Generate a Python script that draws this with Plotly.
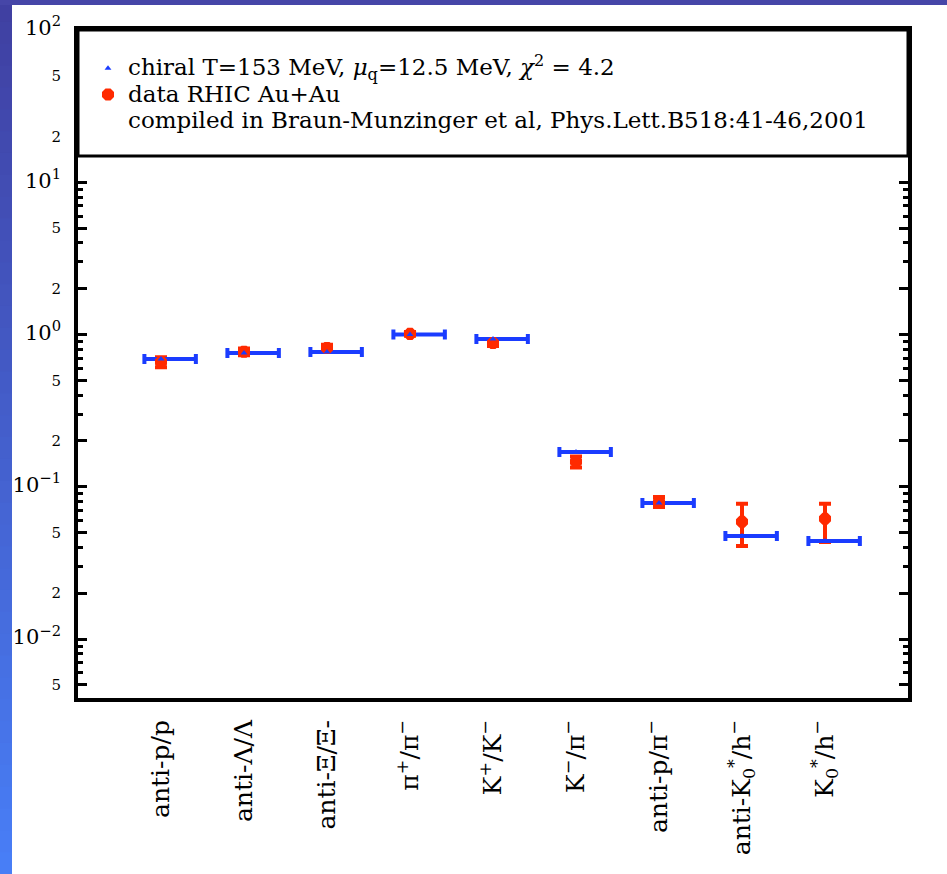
import plotly.graph_objects as go

# ---------------- data ----------------
categories = [
    "anti-p/p",
    "anti-Λ/Λ",
    "anti-Ξ/Ξ-",
    "π<sup>+</sup>/π<sup>−</sup>",
    "K<sup>+</sup>/K<sup>−</sup>",
    "K<sup>−</sup>/π<sup>−</sup>",
    "anti-p/π<sup>−</sup>",
    "anti-K<sub>0</sub><sup>*</sup>/h<sup>−</sup>",
    "K<sub>0</sub><sup>*</sup>/h<sup>−</sup>",
]
x_pos = [1, 2, 3, 4, 5, 6, 7, 8, 9]
model_ratio = [0.691, 0.757, 0.769, 1.0, 0.936, 0.169, 0.0783, 0.0476, 0.0441]
data_ratio = [0.66, 0.77, 0.817, 1.01, 0.88, 0.146, 0.0796, 0.0589, 0.0616]
data_err_plus = [0.05, 0.04, 0.04, 0.03, 0.04, 0.012, 0.006, 0.0184, 0.0157]
data_err_minus = [0.05, 0.04, 0.04, 0.03, 0.04, 0.012, 0.006, 0.018, 0.0182]

y_major_vals = [0.01, 0.1, 1, 10, 100]
y_major_text = ["10<sup>−2</sup>", "10<sup>−1</sup>", "10<sup>0</sup>", "10<sup>1</sup>", "10<sup>2</sup>"]
y_minor_label_vals = [0.005, 0.02, 0.05, 0.2, 0.5, 2, 5, 20, 50]
y_minor_label_text = ["5", "2", "5", "2", "5", "2", "5", "2", "5"]

legend_model = "chiral T=153 MeV, <i>μ</i><sub>q</sub>=12.5 MeV, <i>χ</i><sup>2</sup> = 4.2"
legend_data = "data RHIC Au+Au"
legend_note = "compiled in Braun-Munzinger et al, Phys.Lett.B518:41-46,2001"

# ---------------- styling constants ----------------
W, H = 947, 874
PL, PR, PT, PB = 78, 908, 30, 698   # plot area in pixels
BLUE = "#1a3cff"
RED = "#ff2a00"
FONT = "DejaVu Serif"
BAR_LEFT, BAR_RIGHT = 0.20, 0.42
LEG_TEXT_PX = 23


def px_x(p):
    return (p - PL) / (PR - PL)


def px_y(p):
    return (PB - p) / (PB - PT)


def big(t):
    return "<span style='font-size:%spx'>%s</span>" % (LEG_TEXT_PX, t)


fig = go.Figure()

# red error bars (underneath blue bars)
fig.add_trace(go.Scatter(
    x=x_pos, y=data_ratio, mode="markers",
    marker=dict(size=1, color="rgba(0,0,0,0)"),
    error_y=dict(type="data", array=data_err_plus, arrayminus=data_err_minus,
                 color=RED, thickness=4, width=6, symmetric=False),
    showlegend=False, hoverinfo="skip"))

# blue model bars
fig.add_trace(go.Scatter(
    x=x_pos, y=model_ratio, mode="markers",
    marker=dict(size=1, color="rgba(0,0,0,0)"),
    error_x=dict(type="constant", value=BAR_RIGHT, valueminus=BAR_LEFT, symmetric=False,
                 color=BLUE, thickness=4, width=5),
    showlegend=False, hoverinfo="skip"))

# red markers
fig.add_trace(go.Scatter(
    x=x_pos, y=data_ratio, mode="markers", name=big(legend_data),
    marker=dict(symbol="octagon", size=13, color=RED, line=dict(width=0)),
    legendrank=2))

# blue markers
fig.add_trace(go.Scatter(
    x=x_pos, y=model_ratio, mode="markers", name=big(legend_model),
    marker=dict(symbol="triangle-up", size=6, color=BLUE, line=dict(width=0)),
    legendrank=1))

# note line in legend
fig.add_trace(go.Scatter(
    x=[None], y=[None], mode="markers", name=big(legend_note),
    marker=dict(size=1, color="rgba(0,0,0,0)"), legendrank=3))

# ---------------- shapes: background frame, legend box ----------------
shapes = []
n = 40
top_c = (0x40, 0x40, 0xa2)
bot_c = (0x48, 0x7e, 0xf6)
for i in range(n):
    t = i / (n - 1)
    c = tuple(int(round(top_c[k] + (bot_c[k] - top_c[k]) * t)) for k in range(3))
    y0p = H * i / n
    y1p = H * (i + 1) / n + 1
    shapes.append(dict(type="rect", xref="paper", yref="paper", layer="below",
                       x0=px_x(0), x1=px_x(12), y0=px_y(y1p), y1=px_y(y0p),
                       fillcolor="rgb(%d,%d,%d)" % c, line=dict(width=0)))
shapes.append(dict(type="rect", xref="paper", yref="paper", layer="below",
                   x0=px_x(0), x1=px_x(W), y0=px_y(5), y1=px_y(0),
                   fillcolor="#4646a8", line=dict(width=0)))
shapes.append(dict(type="rect", xref="paper", yref="paper", layer="above",
                   x0=0, x1=1, y0=px_y(156), y1=1,
                   fillcolor="white", line=dict(color="black", width=3)))

fig.update_layout(
    width=W, height=H,
    margin=dict(l=PL, r=W - PR, t=PT, b=H - PB, pad=0),
    paper_bgcolor="white", plot_bgcolor="white",
    font=dict(family=FONT, color="black", size=18),
    shapes=shapes,
    showlegend=True,
    legend=dict(x=px_x(88), y=px_y(50), xanchor="left", yanchor="top",
                bgcolor="rgba(0,0,0,0)", borderwidth=0,
                font=dict(family=FONT, size=18, color="black"),
                tracegroupgap=0, itemwidth=30),
)

fig.update_xaxes(
    range=[0, 10], tickmode="array", tickvals=x_pos, ticktext=categories,
    tickangle=-90, ticks="", showgrid=False, zeroline=False,
    showline=True, linewidth=4, linecolor="black", mirror=True,
    tickfont=dict(family=FONT, size=25, color="black"),
    ticklabelstandoff=8,
)

ytickvals = y_major_vals + y_minor_label_vals
yticktext = ["<span style='font-size:21px'>%s</span>" % t for t in y_major_text] + y_minor_label_text
minor_vals = [m * 10 ** k for k in range(-3, 2) for m in range(2, 10)]

fig.update_yaxes(
    type="log", range=[-2.387, 2],
    tickmode="array", tickvals=ytickvals, ticktext=yticktext,
    ticks="inside", ticklen=9, tickwidth=3, tickcolor="black",
    minor=dict(tickvals=minor_vals, ticks="inside", ticklen=5, tickwidth=3, tickcolor="black"),
    showgrid=False, zeroline=False,
    showline=True, linewidth=4, linecolor="black", mirror="ticks",
    tickfont=dict(family=FONT, size=15, color="black"),
    ticklabelstandoff=10,
)

fig.write_html("out.html", config={"displayModeBar": False},
               post_script="document.body.style.margin='0';")
